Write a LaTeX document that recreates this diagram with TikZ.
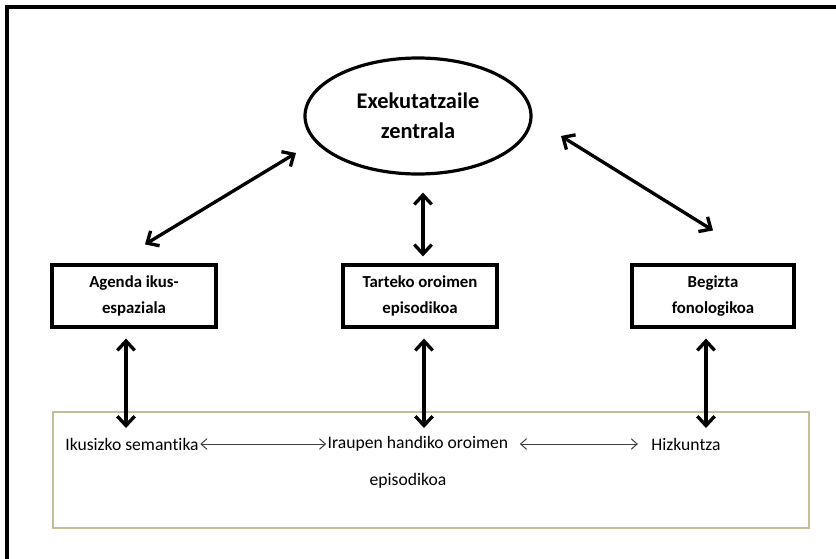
\documentclass[tikz,border=0pt]{standalone}
\usepackage{fontspec}
\setmainfont[Ligatures=NoCommon]{Carlito}
\usetikzlibrary{arrows.meta,calc,shapes.geometric}
\definecolor{tanline}{HTML}{C4BD97}

\begin{document}
\begin{tikzpicture}[x=0.75pt, y=-0.75pt,
    bigarrow/.style={{Straight Barb[length=7pt,width=13pt]}-{Straight Barb[length=7pt,width=13pt]}, line width=2.5pt},
    thinarrow/.style={{Straight Barb[length=4.5pt,width=8pt]}-{Straight Barb[length=4.5pt,width=8pt]}, line width=0.75pt, black!75},
    boxnode/.style={draw, line width=2.4pt, minimum height=46.5pt, align=center, font=\bfseries\fontsize{12.6}{19.5}\selectfont},
    plaintext/.style={inner sep=1pt, align=center, font=\fontsize{13.2}{27.75}\selectfont}]
    \useasboundingbox (0,0) rectangle (836,558);
    \clip (0,0) rectangle (836,558);

    % 外框
    \draw[line width=2.6pt] (7,7) rectangle (900,600);

    % 中央执行
    \node[ellipse, draw, line width=2.4pt, minimum width=169.5pt, minimum height=87pt, align=center,
          font=\bfseries\fontsize{16.8}{22.5}\selectfont] (exec) at (418,116) {Exekutatzaile\\zentrala};

    % 三个子系统
    \node[boxnode, minimum width=123pt] (agenda) at (134,296) {Agenda ikus-\\espaziala};
    \node[boxnode, minimum width=115.5pt] (tarteko) at (420,296) {Tarteko oroimen\\episodikoa};
    \node[boxnode, minimum width=121.5pt] (begizta) at (713,296) {Begizta\\fonologikoa};

    % 长时记忆
    \node[draw=tanline, line width=1.5pt, minimum width=567pt, minimum height=87pt] (ltm) at (431,470) {};
    \node[plaintext] (ikus) at (132,444) {Ikusizko semantika};
    \node[plaintext] (iraupen) at (418,462) {Iraupen handiko oroimen\\episodikoa\hspace*{15pt}};
    \node[plaintext] (hizk) at (686,444) {Hizkuntza};

    % 上方双向箭头
    \coordinate (execA) at ($(exec.center)+(-122,37)$);
    \coordinate (agendaA) at ($(agenda.north)+(11,-19)$);
    \coordinate (execB) at ($(exec.center)+(143,20)$);
    \coordinate (begiztaB) at ($(begizta.north)+(0,-33)$);
    \coordinate (execC) at ($(exec.south)+(5,17)$);
    \coordinate (tartekoC) at ($(tarteko.north)+(3,-7)$);
    \draw[bigarrow] (execA) -- (agendaA);
    \draw[bigarrow] (execB) -- (begiztaB);
    \draw[bigarrow] (execC) -- (tartekoC);

    % 下方竖直箭头
    \coordinate (agendaLow) at (126,428);
    \coordinate (tartekoLow) at (424,428);
    \coordinate (begiztaLow) at (706,428);
    \draw[bigarrow, shorten <=7.5pt] (agenda.south -| agendaLow) -- (agendaLow);
    \draw[bigarrow, shorten <=7.5pt] (tarteko.south -| tartekoLow) -- (tartekoLow);
    \draw[bigarrow, shorten <=7.5pt] (begizta.south -| begiztaLow) -- (begiztaLow);

    % 细箭头
    \draw[thinarrow] (ikus.east) -- (ikus.east -| iraupen.west);
    \draw[thinarrow, shorten <=7.5pt, shorten >=9pt] (hizk.west -| iraupen.east) -- (hizk.west);
\end{tikzpicture}
\end{document}
